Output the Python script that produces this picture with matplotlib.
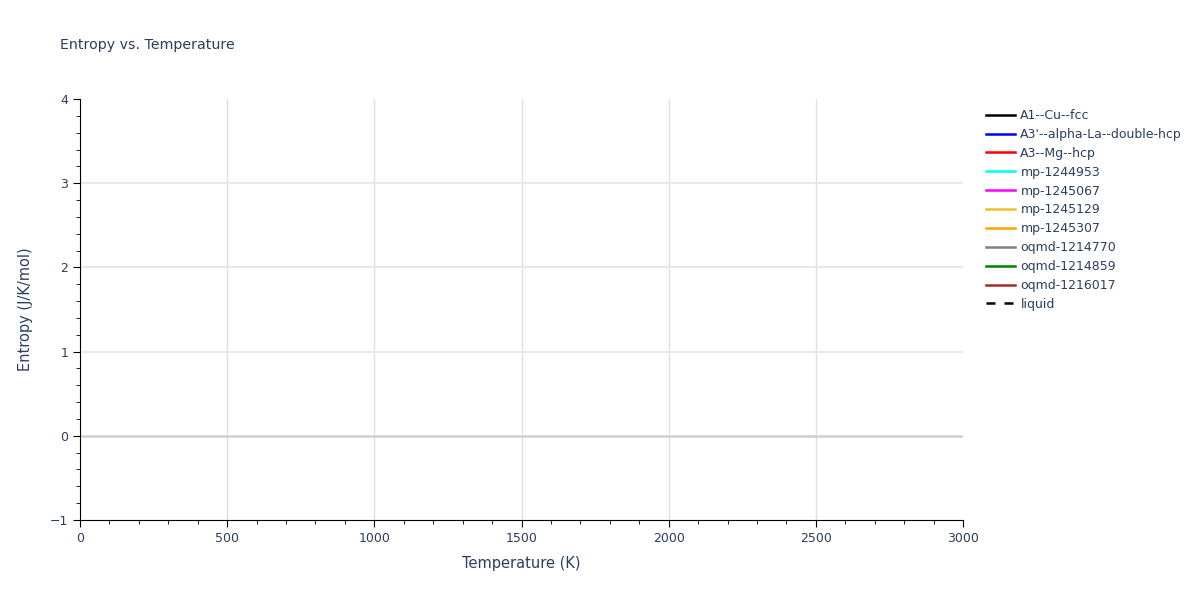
import matplotlib
matplotlib.use("Agg")
import matplotlib.pyplot as plt
from matplotlib.ticker import MultipleLocator

# series names as in the legend; the chart shows no data points for any of them
names = ["A1--Cu--fcc", "A3'--alpha-La--double-hcp", "A3--Mg--hcp",
         "mp-1244953", "mp-1245067", "mp-1245129", "mp-1245307",
         "oqmd-1214770", "oqmd-1214859", "oqmd-1216017", "liquid"]
colors = ["black", "blue", "red", "cyan", "magenta", "#f0c030", "orange",
          "gray", "green", "brown", "black"]
styles = ["-"] * 10 + [(0, (3.6, 3.6))]
temps = [[] for _ in names]
entropy = [[] for _ in names]

txt = "#2a3f5f"
fig = plt.figure(figsize=(12, 6), dpi=100)
ax = fig.add_axes([80/1200, 1-520/600, (963-80)/1200, (520-99)/600])

for t, s, n, c, ls in zip(temps, entropy, names, colors, styles):
    ax.plot(t, s, color=c, ls=ls, lw=1.8, label=n)

ax.set_xlim(0, 3000)
ax.set_ylim(-1, 4)
ax.xaxis.set_major_locator(MultipleLocator(500))
ax.xaxis.set_minor_locator(MultipleLocator(100))
ax.yaxis.set_major_locator(MultipleLocator(1))
ax.yaxis.set_minor_locator(MultipleLocator(0.2))
# grid only inside the plot area, not on its edges
for xv in [500, 1000, 1500, 2000, 2500]:
    ax.axvline(xv, color="#e0e0e0", lw=1, zorder=0)
for yv in [1, 2, 3]:
    ax.axhline(yv, color="#e8e8e8", lw=1.5, zorder=0)
ax.axhline(0, color="#d0d0d0", lw=1.8, zorder=1)
for sp in ["top", "right"]:
    ax.spines[sp].set_visible(False)
for sp in ["left", "bottom"]:
    ax.spines[sp].set_color("black")
ax.tick_params(which="major", length=5, color="black", labelcolor=txt, labelsize=9)
ax.tick_params(which="minor", length=3, color="black")

ax.set_xlabel("Temperature (K)", color=txt, fontsize=10.5, labelpad=8)
ax.set_ylabel("Entropy (J/K/mol)", color=txt, fontsize=10.5, labelpad=12)
fig.text(60/1200, 1-45/600, "Entropy vs. Temperature", color=txt, fontsize=10.2, va="center")

leg = fig.legend(loc="upper left", bbox_to_anchor=(981/1200, 1-104/600), frameon=False,
                 fontsize=9, handlelength=2.3, handletextpad=0.45, labelspacing=0.47,
                 borderaxespad=0)
for t in leg.get_texts():
    t.set_color(txt)

fig.savefig("out.png")
